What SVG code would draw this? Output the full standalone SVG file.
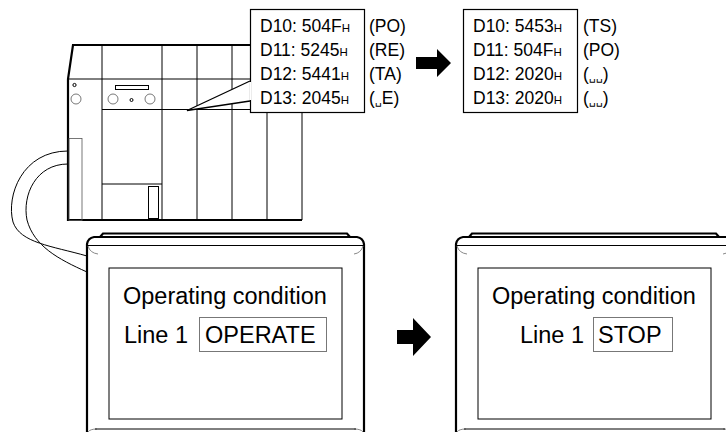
<svg xmlns="http://www.w3.org/2000/svg" width="726" height="432" viewBox="0 0 726 432">
  <style>
    .thick { fill: none; stroke: #000; stroke-width: 2.2; }
    .thin { fill: none; stroke: #000; stroke-width: 1; }
    .hair { fill: none; stroke: #555; stroke-width: 0.8; }
    .soft { fill: none; stroke: #888; stroke-width: 1; }
    .reg { font-family: "Liberation Sans", Arial, "DejaVu Sans", sans-serif; font-size: 17.5px; fill: #000; }
    .sub { font-size: 11.5px; }
    .blank { font-family: "DejaVu Sans", sans-serif; font-size: 11px; }
    .lcd { font-family: "Liberation Sans", Arial, sans-serif; font-size: 23.5px; fill: #000; }
    .box { fill: #fff; stroke: #000; stroke-width: 1.2; }
    .tag { fill: none; stroke: #777; stroke-width: 1; }
  </style>
  <defs>
    <!-- handheld display unit body, drawn at the left unit position -->
    <g id="unit">
      <path class="thick" d="M100,237 L103,233.5 L347,233.5 L350,237" stroke-width="2"/>
      <path class="thick" d="M87,432 L87,244 Q88,238 94,237 L357,237 Q363,238 364,244 L364,432"/>
      <line class="thin" x1="87" y1="245.5" x2="364" y2="245.5"/>
      <path class="soft" d="M88,246 Q90,253 98,254"/>
      <path class="soft" d="M363,246 Q361,253 354,254"/>
      <rect class="thin" x="109" y="268" width="233" height="151" stroke-width="1.3"/>
      <path class="soft" d="M88,432 Q90,429 97,429"/>
      <path class="soft" d="M363,432 Q361,429 354,429"/>
      <line class="thin" x1="95" y1="429" x2="356" y2="429"/>
    </g>
  </defs>

  <!-- PLC rack -->
  <g id="plc">
    <path class="thick" d="M302,45 L73,45 L68,79 L68,220 L302,220"/>
    <line class="thin" x1="302" y1="45" x2="302" y2="220" stroke-width="1.5"/>
    <line class="thin" x1="68" y1="79" x2="302" y2="79"/>
    <line class="thin" x1="102" y1="45" x2="102" y2="220"/>
    <line class="thin" x1="162" y1="45" x2="162" y2="220"/>
    <line class="thin" x1="197" y1="45" x2="197" y2="220"/>
    <line class="thin" x1="232" y1="45" x2="232" y2="220"/>
    <line class="thin" x1="267" y1="45" x2="267" y2="220"/>
    <line class="thin" x1="102" y1="109.5" x2="302" y2="109.5"/>
    <line class="thin" x1="102" y1="184" x2="162" y2="184"/>
    <rect class="thin" x="148.5" y="186.5" width="10" height="32"/>
    <rect class="hair" x="69" y="138.5" width="13" height="82"/>
    <circle class="thin" cx="74.5" cy="85" r="1.6"/>
    <circle class="hair" cx="76" cy="99" r="5"/>
    <rect class="thin" x="115.5" y="85.5" width="33" height="4" stroke-width="0.8"/>
    <circle class="hair" cx="113" cy="99" r="5"/>
    <circle class="hair" cx="150" cy="99" r="5"/>
    <circle class="thin" cx="131.5" cy="100" r="1.5" stroke-width="0.8"/>
  </g>

  <!-- Cable from PLC to display unit -->
  <g id="connectors">
    <path class="thin" stroke-width="1.3" d="M68,151 C22,151 6,196 13,222 C20,243 52,246 87,256"/>
    <path class="thin" stroke-width="1.3" d="M68,164 C36,164 22,195 27,220 C34,246 58,259 87,272"/>
  </g>

  <!-- Data registers before -->
  <g id="callout-before">
    <path d="M250,81 L187,110.5 L250,101" fill="#fff" stroke="#000" stroke-width="1.3"/>
    <rect class="box" x="250.5" y="9.5" width="114" height="103"/>
    <line x1="250.5" y1="82" x2="250.5" y2="100" stroke="#fff" stroke-width="1.5"/>
    <text class="reg" x="260" y="32">D10: 504F<tspan class="sub">H</tspan></text>
    <text class="reg" x="260" y="56">D11: 5245<tspan class="sub">H</tspan></text>
    <text class="reg" x="260" y="80">D12: 5441<tspan class="sub">H</tspan></text>
    <text class="reg" x="260" y="104">D13: 2045<tspan class="sub">H</tspan></text>
    <text class="reg" x="369" y="32">(PO)</text>
    <text class="reg" x="369" y="56">(RE)</text>
    <text class="reg" x="369" y="80">(TA)</text>
    <text class="reg" x="369" y="104">(<tspan class="blank">␣</tspan>E)</text>
  </g>

  <g id="arrow-top">
    <polygon points="416,57 437,57 437,49 451,63 437,77 437,69 416,69" fill="#000"/>
  </g>

  <!-- Data registers after -->
  <g id="callout-after">
    <rect class="box" x="463.5" y="9.5" width="114" height="103"/>
    <text class="reg" x="473" y="32">D10: 5453<tspan class="sub">H</tspan></text>
    <text class="reg" x="473" y="56">D11: 504F<tspan class="sub">H</tspan></text>
    <text class="reg" x="473" y="80">D12: 2020<tspan class="sub">H</tspan></text>
    <text class="reg" x="473" y="104">D13: 2020<tspan class="sub">H</tspan></text>
    <text class="reg" x="583" y="32">(TS)</text>
    <text class="reg" x="583" y="56">(PO)</text>
    <text class="reg" x="583" y="80">(<tspan class="blank">␣␣</tspan>)</text>
    <text class="reg" x="583" y="104">(<tspan class="blank">␣␣</tspan>)</text>
  </g>

  <!-- Display unit: operating -->
  <g id="panel-before">
    <use href="#unit"/>
    <text class="lcd" x="123" y="304">Operating condition</text>
    <text class="lcd" x="124" y="343">Line 1</text>
    <rect class="tag" x="199.5" y="317.5" width="127" height="34"/>
    <text class="lcd" x="205" y="343">OPERATE</text>
  </g>

  <g id="arrow-bottom">
    <polygon points="397,330 413,330 413,318 431,337 413,356 413,344 397,344" fill="#000"/>
  </g>

  <!-- Display unit: stopped -->
  <g id="panel-after">
    <use href="#unit" transform="translate(369,0)"/>
    <text class="lcd" x="492" y="304">Operating condition</text>
    <text class="lcd" x="520" y="343">Line 1</text>
    <rect class="tag" x="593.5" y="317.5" width="79" height="34"/>
    <text class="lcd" x="598" y="343">STOP</text>
  </g>
</svg>
